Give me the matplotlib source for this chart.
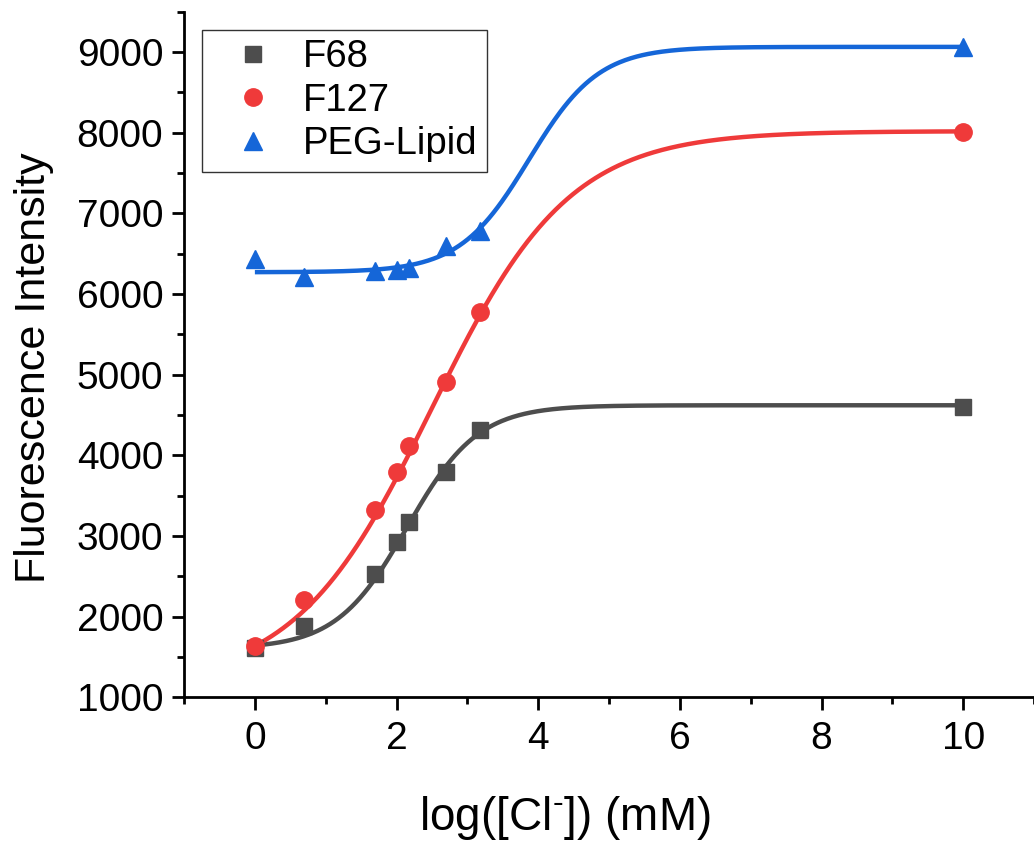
import numpy as np
import matplotlib
matplotlib.use('Agg')
import matplotlib.pyplot as plt
from matplotlib.ticker import MultipleLocator

plt.rcParams['font.family'] = ['Liberation Sans', 'DejaVu Sans']
plt.rcParams['mathtext.fontset'] = 'custom'
plt.rcParams['mathtext.rm'] = 'Liberation Sans'

#log of chloride concentration (mM)
log_cl = [0, 0.699, 1.699, 2.0, 2.176, 2.699, 3.176, 10]

f68 = [1610, 1880, 2530, 2920, 3170, 3790, 4310, 4600]
f127 = [1635, 2205, 3320, 3790, 4115, 4910, 5780, 8010]
peg = [6440, 6210, 6280, 6295, 6320, 6595, 6780, 9060]

#Boltzmann fit parameters A1, A2, x0, dx
f68_fit = [1600, 4620, 2.15, 0.50]
f127_fit = [1150, 8020, 2.50, 0.97]
peg_fit = [6270, 9065, 3.87, 0.49]

names = ['F68', 'F127', 'PEG-Lipid']
colors = ['#4D4D4D', '#EF3A3A', '#1566D8']
markers = ['s', 'o', '^']
msizes = [11, 12.5, 13]

fig = plt.figure(figsize=(10.34, 8.44), dpi=100)
ax = fig.add_axes([0.178, 0.174, 0.822, 0.812])

#x values the fit curves are evaluated on
xfit = np.linspace(0, 10, 500)

for data, fit, name, c, m, ms in zip([f68, f127, peg], [f68_fit, f127_fit, peg_fit],
                                     names, colors, markers, msizes):
    a1, a2, x0, dx = fit
    yfit = a2 + (a1 - a2) / (1 + np.exp((xfit - x0) / dx))
    ax.plot(xfit, yfit, color=c, lw=3.2, solid_capstyle='butt', zorder=2)
    ax.plot(log_cl, data, ls='none', marker=m, ms=ms, color=c, label=name, zorder=3)

ax.set_xlim(-1, 11)
ax.set_ylim(1000, 9500)
ax.xaxis.set_major_locator(MultipleLocator(2))
ax.xaxis.set_minor_locator(MultipleLocator(1))
ax.yaxis.set_major_locator(MultipleLocator(1000))
ax.yaxis.set_minor_locator(MultipleLocator(500))

#only left and bottom axes like the Origin export
for s in ['top', 'right']:
    ax.spines[s].set_visible(False)
for s in ['left', 'bottom']:
    ax.spines[s].set_linewidth(2)

ax.tick_params(which='major', direction='out', length=9, width=2, labelsize=28, pad=6)
ax.tick_params(which='minor', direction='out', length=5, width=2)
ax.tick_params(axis='x', which='major', pad=8)

ax.set_xlabel(r'log([Cl$^{\text{-}}$]) (mM)', fontsize=33)
ax.xaxis.set_label_coords(0.448, -0.142)
ax.set_ylabel('Fluorescence Intensity', fontsize=31)
ax.yaxis.set_label_coords(-0.153, 0.48)

leg = ax.legend(loc='upper left', bbox_to_anchor=(0.021, 0.974), borderaxespad=0,
                fontsize=27.5, fancybox=False, framealpha=1, edgecolor='#333333',
                handletextpad=0.2, labelspacing=0.2, borderpad=0.25, handlelength=2.2)
leg.get_frame().set_linewidth(1.0)

fig.savefig('out.png', dpi=100)
